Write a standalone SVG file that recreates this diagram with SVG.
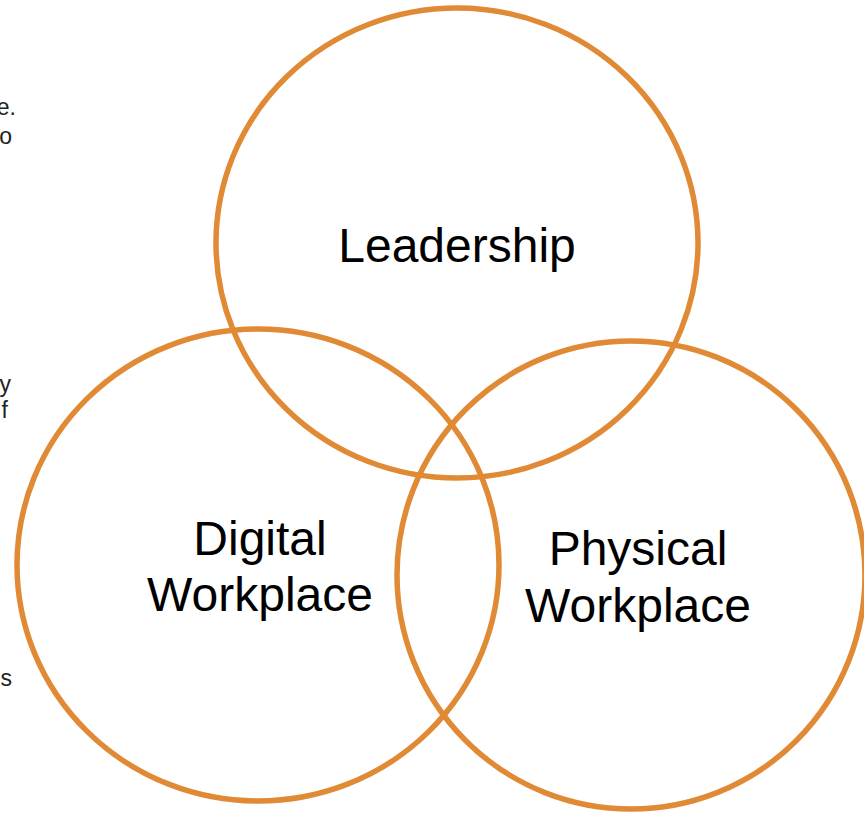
<svg xmlns="http://www.w3.org/2000/svg" width="864" height="814" viewBox="0 0 864 814">
<style>
.c{fill:none;stroke:#E08A35;stroke-width:5.5}
.t{font-family:"Liberation Sans",Arial,sans-serif;font-size:48px;fill:#000;text-anchor:middle}
.s{font-family:"Liberation Sans",Arial,sans-serif;font-size:23px;fill:#222;text-anchor:end}
</style>
<rect width="864" height="814" fill="#fff"/>
<g id="side-text">
<text class="s" x="16" y="115">e.</text>
<text class="s" x="12" y="144">o</text>
<text class="s" x="11" y="392">y</text>
<text class="s" x="8" y="418">f</text>
<text class="s" x="12" y="686">s</text>
</g>
<g id="leadership">
<ellipse class="c" cx="457" cy="243" rx="241" ry="235"/>
<text class="t" x="457" y="262">Leadership</text>
</g>
<g id="digital">
<ellipse class="c" cx="258" cy="565" rx="241" ry="236"/>
<text class="t" x="260" y="555">Digital</text>
<text class="t" x="260" y="611">Workplace</text>
</g>
<g id="physical">
<ellipse class="c" cx="631" cy="575" rx="234" ry="234"/>
<text class="t" x="638" y="565">Physical</text>
<text class="t" x="638" y="622">Workplace</text>
</g>
<g id="connectors"></g>
</svg>
